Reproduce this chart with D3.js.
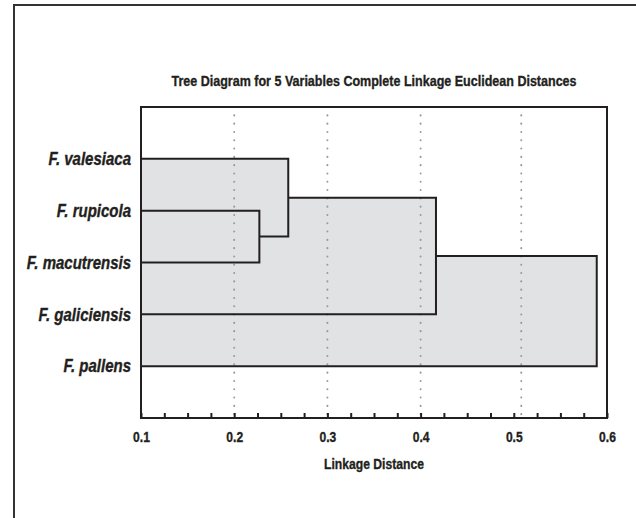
<!DOCTYPE html>
<html>
<head>
<meta charset="utf-8">
<script src="https://cdn.jsdelivr.net/npm/d3@7"></script>
<style>
  body { margin: 0; background: #fff; }
  text { font-family: "Liberation Sans", Arial, sans-serif; font-weight: bold; fill: #231f20; stroke: #231f20; stroke-width: 0.35px; }
</style>
</head>
<body>
<div id="chart"></div>
<script>
// Leaves, top to bottom
const leaves = ["F. valesiaca", "F. rupicola", "F. macutrensis", "F. galiciensis", "F. pallens"];

// Merges: M1..M4, each joins childA and childB at a linkage distance
const mergeIds = ["M1", "M2", "M3", "M4"];
const mergeChildA = ["F. rupicola", "F. valesiaca", "M2", "M3"];
const mergeChildB = ["F. macutrensis", "M1", "F. galiciensis", "F. pallens"];
const mergeHeights = [0.227, 0.258, 0.4165, 0.589];

// Axis
const majorTicks = [0.1, 0.2, 0.3, 0.4, 0.5, 0.6];
const minorTicks = d3.range(0, 21).map(i => +(0.1 + i * 0.025).toFixed(3));
const gridLines = [0.2, 0.3, 0.4, 0.508];

const titleText = "Tree Diagram for 5 Variables Complete Linkage Euclidean Distances";
const xLabel = "Linkage Distance";

const width = 636, height = 518;
const margin = { top: 107, right: 29, bottom: 100, left: 141 };

// squeeze text horizontally to mimic a condensed face
function squeeze(sel, k) {
  sel.each(function () {
    const w = this.getComputedTextLength();
    d3.select(this).attr("textLength", w * k).attr("lengthAdjust", "spacingAndGlyphs");
  });
}

const svg = d3.select("#chart").append("svg")
  .attr("width", width)
  .attr("height", height);

// outer border (runs off the page on the right and bottom)
svg.append("rect")
  .attr("x", 14).attr("y", 5)
  .attr("width", 700).attr("height", 700)
  .attr("fill", "none")
  .attr("stroke", "#333")
  .attr("stroke-width", 2);

const x = d3.scaleLinear()
  .domain([0.1, 0.6])
  .range([margin.left, width - margin.right]);

// one slot above and below the leaves
const y = d3.scaleLinear()
  .domain([0, leaves.length + 1])
  .range([margin.top, height - margin.bottom]);

// positions of every node
const pos = {};
leaves.forEach((name, i) => { pos[name] = { h: 0.1, y: y(i + 1) }; });
mergeIds.forEach((id, i) => {
  const a = pos[mergeChildA[i]], b = pos[mergeChildB[i]];
  pos[id] = { h: mergeHeights[i], y: (a.y + b.y) / 2 };
});

const g = svg.append("g");

// grey fill: one block per merge, from the left edge to the merge height
g.selectAll(".fill")
  .data(mergeIds)
  .enter()
  .append("rect")
  .attr("class", "fill")
  .attr("x", x(0.1))
  .attr("y", (d, i) => Math.min(pos[mergeChildA[i]].y, pos[mergeChildB[i]].y))
  .attr("width", (d, i) => x(mergeHeights[i]) - x(0.1))
  .attr("height", (d, i) => Math.abs(pos[mergeChildB[i]].y - pos[mergeChildA[i]].y))
  .attr("fill", "#e1e2e4");

// dotted grid
g.selectAll(".grid")
  .data(gridLines)
  .enter()
  .append("line")
  .attr("x1", d => x(d)).attr("x2", d => x(d))
  .attr("y1", margin.top).attr("y2", height - margin.bottom)
  .attr("stroke", "#9a9a9a")
  .attr("stroke-width", 2)
  .attr("stroke-linecap", "round")
  .attr("stroke-dasharray", "0.1 8.2");

// dendrogram links
const linkPath = (d, i) => {
  const a = pos[mergeChildA[i]], b = pos[mergeChildB[i]];
  const hx = x(mergeHeights[i]);
  return `M${x(a.h)},${a.y}H${hx}V${b.y}H${x(b.h)}`;
};
g.selectAll(".link")
  .data(mergeIds)
  .enter()
  .append("path")
  .attr("d", linkPath)
  .attr("fill", "none")
  .attr("stroke", "#231f20")
  .attr("stroke-width", 2);

// minor ticks pointing up from the bottom
svg.append("g")
  .attr("transform", `translate(0,${height - margin.bottom})`)
  .call(d3.axisBottom(x).tickValues(minorTicks).tickSizeInner(-5).tickSizeOuter(0).tickFormat(""))
  .call(a => a.select(".domain").remove())
  .call(a => a.selectAll("line").attr("stroke", "#231f20").attr("stroke-width", 2));

// tick labels
svg.append("g")
  .attr("transform", `translate(0,${height - margin.bottom})`)
  .call(d3.axisBottom(x).tickValues(majorTicks).tickSize(0).tickPadding(13).tickFormat(d3.format(".1f")))
  .call(a => a.select(".domain").remove())
  .call(a => a.selectAll("text")
    .style("font-family", "'Liberation Sans', Arial, sans-serif")
    .style("font-weight", "bold")
    .style("font-size", "15.5px")
    .attr("fill", "#231f20")
    .attr("stroke", "#231f20")
    .attr("stroke-width", 0.35)
    .call(squeeze, 0.78));

// plot frame
svg.append("rect")
  .attr("x", x(0.1)).attr("y", margin.top)
  .attr("width", x(0.6) - x(0.1))
  .attr("height", height - margin.bottom - margin.top)
  .attr("fill", "none")
  .attr("stroke", "#231f20")
  .attr("stroke-width", 2);

// leaf labels
svg.selectAll(".leaf")
  .data(leaves)
  .enter()
  .append("text")
  .attr("x", x(0.1) - 10)
  .attr("y", d => pos[d].y)
  .attr("dy", "0.36em")
  .attr("text-anchor", "end")
  .style("font-style", "italic")
  .style("font-size", "17.5px")
  .text(d => d)
  .call(squeeze, 0.857);

// title
svg.append("text")
  .attr("x", (x(0.1) + x(0.6)) / 2)
  .attr("y", 86)
  .attr("text-anchor", "middle")
  .style("font-size", "15px")
  .text(titleText)
  .call(squeeze, 0.835);

// x label
svg.append("text")
  .attr("x", (x(0.1) + x(0.6)) / 2)
  .attr("y", 469)
  .attr("text-anchor", "middle")
  .style("font-size", "15px")
  .text(xLabel)
  .call(squeeze, 0.81);
</script>
</body>
</html>
